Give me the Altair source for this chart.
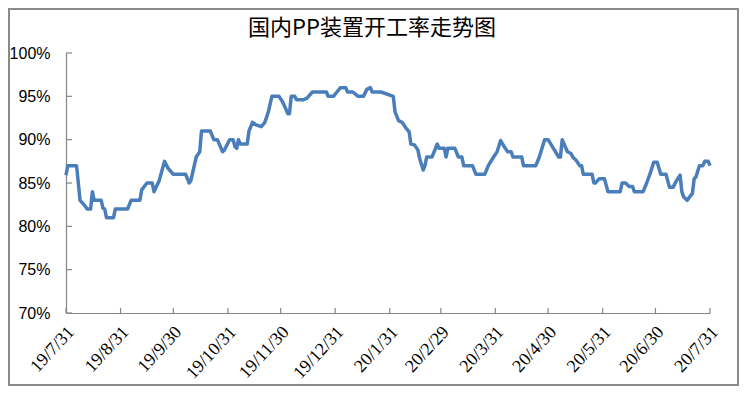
import altair as alt
import pandas as pd

dates = [
    "2019-07-31", "2019-08-01", "2019-08-06", "2019-08-08", "2019-08-11", "2019-08-12",
    "2019-08-14", "2019-08-15", "2019-08-16", "2019-08-20", "2019-08-21", "2019-08-22",
    "2019-08-23", "2019-08-27", "2019-08-28", "2019-09-04", "2019-09-06", "2019-09-11",
    "2019-09-12", "2019-09-15", "2019-09-18", "2019-09-19", "2019-09-22", "2019-09-25",
    "2019-09-27", "2019-09-30", "2019-10-07", "2019-10-09", "2019-10-10", "2019-10-13",
    "2019-10-15", "2019-10-16", "2019-10-21", "2019-10-23", "2019-10-25", "2019-10-28",
    "2019-10-29", "2019-11-01", "2019-11-03", "2019-11-04", "2019-11-05", "2019-11-06",
    "2019-11-07", "2019-11-11", "2019-11-12", "2019-11-14", "2019-11-16", "2019-11-19",
    "2019-11-21", "2019-11-23", "2019-11-25", "2019-11-29", "2019-12-01", "2019-12-03",
    "2019-12-04", "2019-12-05", "2019-12-06", "2019-12-08", "2019-12-09", "2019-12-13",
    "2019-12-15", "2019-12-18", "2019-12-26", "2019-12-27", "2019-12-30", "2020-01-01",
    "2020-01-03", "2020-01-06", "2020-01-07", "2020-01-10", "2020-01-13", "2020-01-16",
    "2020-01-18", "2020-01-20", "2020-01-21", "2020-01-26", "2020-02-02", "2020-02-03",
    "2020-02-05", "2020-02-07", "2020-02-09", "2020-02-11", "2020-02-12", "2020-02-14",
    "2020-02-16", "2020-02-17", "2020-02-19", "2020-02-20", "2020-02-21", "2020-02-24",
    "2020-02-27", "2020-02-28", "2020-03-02", "2020-03-03", "2020-03-04", "2020-03-08",
    "2020-03-10", "2020-03-12", "2020-03-13", "2020-03-18", "2020-03-20", "2020-03-25",
    "2020-03-27", "2020-03-30", "2020-04-01", "2020-04-03", "2020-04-05", "2020-04-07",
    "2020-04-09", "2020-04-10", "2020-04-15", "2020-04-16", "2020-04-23", "2020-04-25",
    "2020-04-28", "2020-04-30", "2020-05-03", "2020-05-06", "2020-05-07", "2020-05-08",
    "2020-05-11", "2020-05-13", "2020-05-14", "2020-05-16", "2020-05-18", "2020-05-19",
    "2020-05-20", "2020-05-25", "2020-05-26", "2020-05-27", "2020-05-29", "2020-06-01",
    "2020-06-03", "2020-06-10", "2020-06-11", "2020-06-13", "2020-06-15", "2020-06-17",
    "2020-06-18", "2020-06-23", "2020-06-25", "2020-06-27", "2020-06-29", "2020-07-01",
    "2020-07-03", "2020-07-06", "2020-07-08", "2020-07-10", "2020-07-12", "2020-07-14",
    "2020-07-15", "2020-07-16", "2020-07-18", "2020-07-21", "2020-07-22", "2020-07-23",
    "2020-07-25", "2020-07-27", "2020-07-28", "2020-07-30", "2020-07-31",
]

rates = [
    85.9, 87.0, 87.0, 83.0, 82.3, 82.0,
    82.0, 84.0, 83.0, 83.0, 82.1, 82.0,
    81.0, 81.0, 82.0, 82.0, 83.0, 83.0,
    84.2, 85.0, 85.0, 84.0, 85.3, 87.5,
    86.7, 86.0, 86.0, 85.0, 85.3, 88.0,
    88.6, 91.0, 91.0, 90.0, 90.0, 88.6,
    88.8, 90.0, 90.0, 89.2, 89.0, 90.0,
    89.5, 89.5, 91.0, 92.0, 91.7, 91.5,
    92.0, 93.2, 95.0, 95.0, 94.4, 93.5,
    93.0, 93.0, 95.0, 95.0, 94.6, 94.6,
    94.8, 95.5, 95.5, 95.0, 95.0, 95.5,
    96.0, 96.0, 95.5, 95.5, 95.0, 95.0,
    95.8, 96.0, 95.5, 95.5, 95.0, 93.2,
    92.2, 92.0, 91.4, 90.9, 89.5, 89.4,
    88.8, 87.8, 86.5, 87.0, 88.0, 88.0,
    89.5, 89.0, 89.0, 88.0, 89.0, 89.0,
    88.0, 88.0, 87.0, 87.0, 86.0, 86.0,
    87.0, 88.0, 88.6, 89.9, 89.2, 88.6,
    88.6, 88.0, 88.0, 87.0, 87.0, 88.0,
    90.0, 90.0, 89.0, 88.0, 88.0, 90.0,
    88.6, 88.4, 88.0, 87.6, 87.0, 87.0,
    86.0, 86.0, 85.0, 85.0, 85.5, 85.5,
    84.0, 84.0, 85.0, 85.0, 84.6, 84.6,
    84.0, 84.0, 85.0, 86.1, 87.4, 87.4,
    86.0, 86.0, 84.5, 84.5, 85.3, 85.9,
    84.0, 83.4, 83.0, 83.8, 85.5, 85.7,
    87.0, 87.0, 87.5, 87.5, 87.0,
]

month_ends = [
    (2019, 7, 31), (2019, 8, 31), (2019, 9, 30), (2019, 10, 31), (2019, 11, 30),
    (2019, 12, 31), (2020, 1, 31), (2020, 2, 29), (2020, 3, 31), (2020, 4, 30),
    (2020, 5, 31), (2020, 6, 30), (2020, 7, 31),
]
y_ticks = [70, 75, 80, 85, 90, 95, 100]

title_text = "国内PP装置开工率走势图"
line_color = "#4A7EBB"
axis_color = "#868686"

df = pd.DataFrame({"date": dates, "rate": rates})
df_xt = pd.DataFrame({"date": ["%04d-%02d-%02d" % t for t in month_ends]})
df_yt = pd.DataFrame({"rate": y_ticks})
df_one = pd.DataFrame({"a": [0]})

tick_vals = [alt.DateTime(year=y, month=m, date=d, utc=True) for (y, m, d) in month_ends]
x_scale = alt.Scale(type="utc", domain=[tick_vals[0], tick_vals[-1]])
y_scale = alt.Scale(domain=[70, 100], nice=False, zero=False)

x_axis = alt.Axis(values=tick_vals,
                  labelExpr="utcFormat(datum.value, '%y/%-m/%-d')",
                  labelAngle=-47, labelAlign="right", labelBaseline="middle",
                  labelPadding=16, labelOffset=5,
                  labelFont="Liberation Serif", labelFontSize=18, labelColor="#000000",
                  labelFlush=False, labelOverlap=False, labelBound=False,
                  ticks=False, grid=False, domainColor=axis_color, domainWidth=1.2)
y_axis = alt.Axis(values=y_ticks, labelExpr="datum.value + '%'",
                  labelFont="Liberation Sans", labelFontSize=16, labelColor="#000000",
                  labelPadding=16, ticks=False, grid=False,
                  domainColor=axis_color, domainWidth=1.2)

W, H = 644, 260

line = alt.Chart(df).mark_line(color=line_color, strokeWidth=3.5, strokeJoin="round").encode(
    x=alt.X("date:T", scale=x_scale, title=None, axis=x_axis),
    y=alt.Y("rate:Q", scale=y_scale, title=None, axis=y_axis),
)

xticks = alt.Chart(df_xt).mark_rule(color=axis_color, strokeWidth=1.2).encode(
    x=alt.X("date:T", scale=x_scale, title=None, axis=x_axis),
    y=alt.value(H),
    y2=alt.value(H - 5),
)

yticks = alt.Chart(df_yt).mark_rule(color=axis_color, strokeWidth=1.2).encode(
    y=alt.Y("rate:Q", scale=y_scale, title=None, axis=y_axis),
    x=alt.value(0),
    x2=alt.value(6),
)

border = alt.Chart(df_one).mark_rect(filled=False, stroke="#8A8A8A", strokeWidth=2).encode(
    x=alt.value(-57),
    x2=alt.value(672),
    y=alt.value(-44),
    y2=alt.value(332),
)

chart = alt.layer(line, xticks, yticks, border).properties(
    width=W,
    height=H,
    title=alt.TitleParams(text=title_text, anchor="middle", frame="group",
                          font="Noto Sans CJK SC", fontSize=22, fontWeight="normal",
                          color="#000000", offset=-32, dx=-16),
    autosize=alt.AutoSizeParams(type="none"),
    padding={"left": 58, "top": 45, "right": 29, "bottom": 73},
    background="#FFFFFF",
).configure_view(stroke=None)

chart.save("out.html", embed_options={"renderer": "svg", "actions": False})
